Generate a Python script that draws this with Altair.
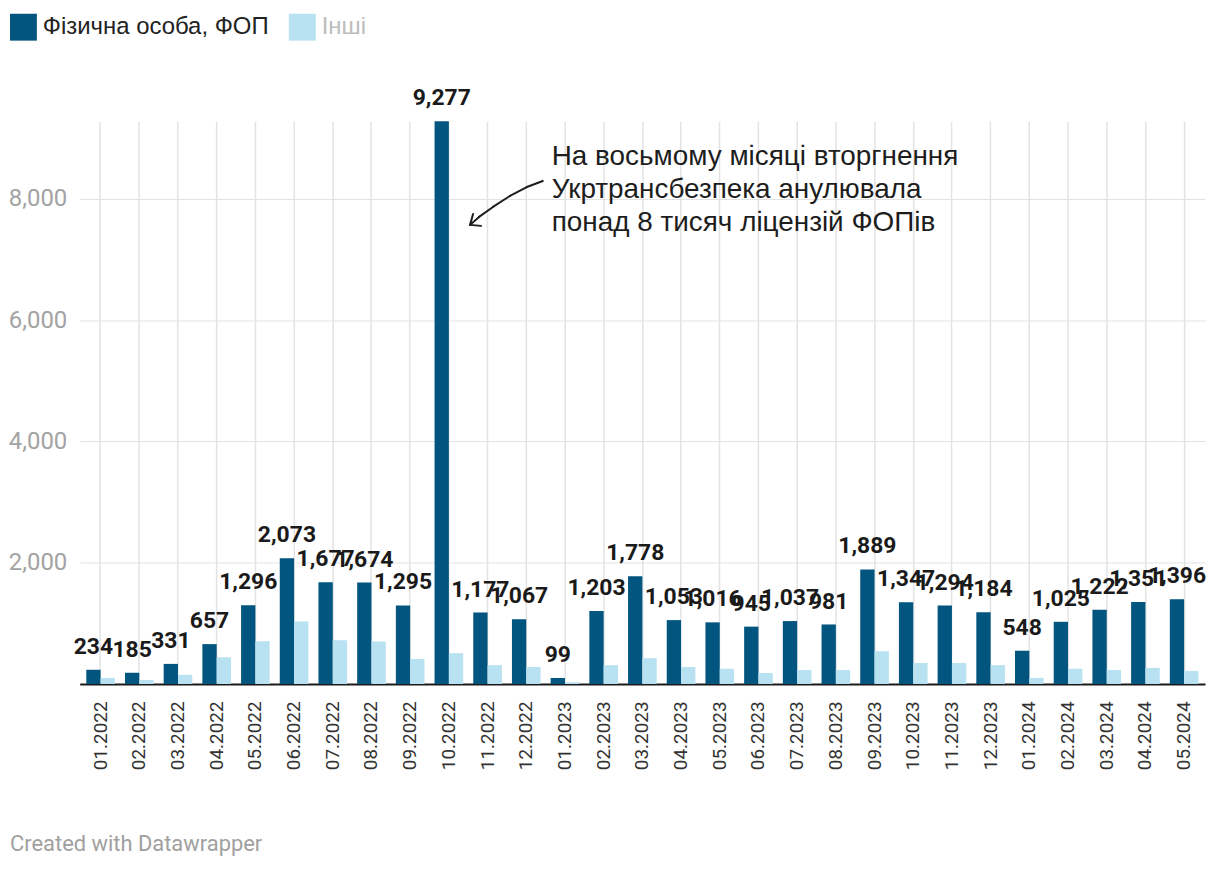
import altair as alt
import pandas as pd

months = ["01.2022", "02.2022", "03.2022", "04.2022", "05.2022", "06.2022", "07.2022",
          "08.2022", "09.2022", "10.2022", "11.2022", "12.2022", "01.2023", "02.2023",
          "03.2023", "04.2023", "05.2023", "06.2023", "07.2023", "08.2023", "09.2023",
          "10.2023", "11.2023", "12.2023", "01.2024", "02.2024", "03.2024", "04.2024",
          "05.2024"]
fop = [234, 185, 331, 657, 1296, 2073, 1677, 1674, 1295, 9277, 1177, 1067, 99, 1203,
       1778, 1053, 1016, 945, 1037, 981, 1889, 1347, 1294, 1184, 548, 1025, 1222, 1351,
       1396]
others = [100, 65, 150, 440, 705, 1030, 720, 700, 410, 505, 310, 280, 30, 310,
          425, 280, 250, 180, 230, 230, 540, 345, 345, 310, 100, 250, 230, 265, 215]
series_names = ["Фізична особа, ФОП", "Інші"]
colors = ["#01557f", "#b8e1f1"]
y_ticks = [2000, 4000, 6000, 8000]
note_lines = ["На восьмому місяці вторгнення", "Укртрансбезпека анулювала",
              "понад 8 тисяч ліцензій ФОПів"]
footer = "Created with Datawrapper"

rows = []
for m, a, b in zip(months, fop, others):
    rows.append({"month": m, "series": series_names[0], "value": a})
    rows.append({"month": m, "series": series_names[1], "value": b})
df = pd.DataFrame(rows)

W, H = 1130, 565

x_enc = alt.X(
    "month:N", sort=months, title=None,
    scale=alt.Scale(paddingInner=0.26, paddingOuter=0.17),
    axis=alt.Axis(labelAngle=-90, labelFont="Roboto", labelFontSize=19,
                  labelColor="#333333", labelPadding=17, ticks=False,
                  domainColor="#1a1a1a", domainWidth=2, grid=True,
                  gridColor="#e3e3e3", gridWidth=1.5, bandPosition=0.5),
)
xoff = alt.XOffset("series:N", sort=series_names,
                   scale=alt.Scale(paddingInner=0, paddingOuter=0))
y_enc = alt.Y(
    "value:Q", title=None,
    scale=alt.Scale(domain=[0, 9277], nice=False),
    axis=alt.Axis(values=y_ticks, format=",.0f", labelFont="Roboto", labelFontSize=24,
                  labelColor="#a3a3a3", labelPadding=13, ticks=False, domain=False,
                  grid=True, gridColor="#e3e3e3", gridWidth=1),
)

base = alt.Chart(df)

bars = base.mark_bar(strokeWidth=0).encode(
    x=x_enc, xOffset=xoff, y=y_enc,
    color=alt.Color(
        "series:N", sort=series_names,
        scale=alt.Scale(domain=series_names, range=colors),
        legend=alt.Legend(
            orient="none", legendX=-70, legendY=-108, direction="horizontal",
            title=None, symbolType="square", symbolSize=729, symbolStrokeWidth=0,
            symbolOpacity=1, labelFont="Liberation Sans", labelFontSize=24,
            labelLimit=500,
            labelColor=alt.ExprRef("datum.label == 'Інші' ? '#bdbdbd' : '#222222'"),
            columnPadding=20, labelOffset=6),
    ),
)

labels = base.transform_filter(
    alt.datum.series == series_names[0]
).mark_text(
    font="Roboto", fontWeight="bold", fontSize=23, color="#1a1a1a",
    baseline="alphabetic", align="center", dy=-16,
).encode(
    x=alt.X("month:N", sort=months), xOffset=xoff, y="value:Q",
    text=alt.Text("value:Q", format=","),
)

one = pd.DataFrame({"k": [0]})

note = alt.Chart(one).mark_text(
    text=note_lines, font="Liberation Sans", fontSize=28, color="#1d1d1d",
    align="left", baseline="alphabetic", lineHeight=33,
).encode(x=alt.value(474), y=alt.value(44))

arrow_pts = [(465, 60), (449, 66), (432, 75), (415, 86), (401, 96), (392, 104)]
arms = [((392, 104), (395, 93)), ((392, 104), (403, 105))]
segs = list(zip(arrow_pts[:-1], arrow_pts[1:])) + arms
arrow_layers = [
    alt.Chart(one).mark_rule(color="#1d1d1d", strokeWidth=2, strokeCap="round").encode(
        x=alt.value(a[0]), y=alt.value(a[1]), x2=alt.value(b[0]), y2=alt.value(b[1]))
    for a, b in segs
]

foot = alt.Chart(one).mark_text(
    text=footer, font="Roboto", fontSize=22, color="#a0a0a0",
    align="left", baseline="alphabetic",
).encode(x=alt.value(-70), y=alt.value(733))

chart = alt.layer(bars, labels, note, foot, *arrow_layers).properties(
    width=W, height=H,
    padding={"left": 0, "top": 4, "right": 5, "bottom": 5},
).configure_view(stroke=None)

chart.save("out.html", embed_options={"renderer": "svg", "actions": False})
